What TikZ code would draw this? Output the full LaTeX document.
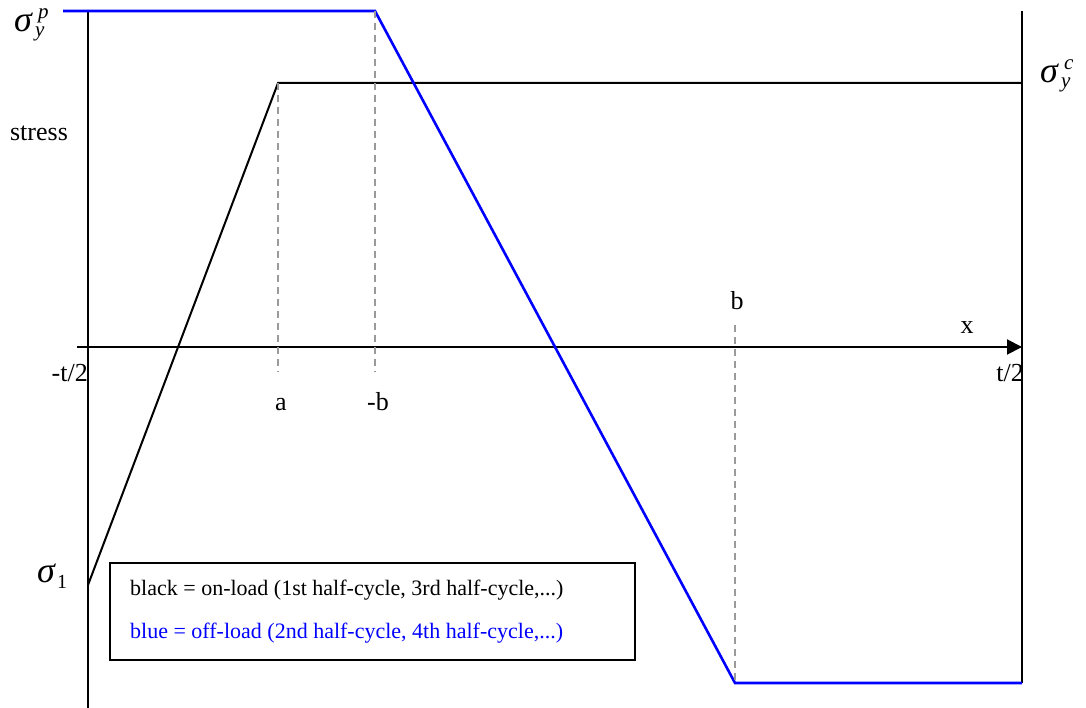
\documentclass[tikz,border=0pt]{standalone}
\usepackage{fontspec}
\setmainfont{Liberation Serif}
\usetikzlibrary{arrows.meta,positioning}
\definecolor{offblue}{HTML}{0000FF}
\definecolor{guidegray}{HTML}{9A9A9A}
\newcommand{\sigyld}[1]{\textit{σ}\kern2pt{\fontsize{21}{21}\selectfont\itshape
  \rlap{\kern3pt\raisebox{13pt}{#1}}\raisebox{-5pt}{y}}}
\tikzset{onload/.style={line width=2pt,draw=black},
  offload/.style={line width=2.6pt,draw=offblue},
  guide/.style={line width=1.4pt,draw=guidegray,dash pattern=on 7pt off 5pt},
  axisline/.style={line width=2pt,draw=black},
  lbl/.style={font=\fontsize{26}{30}\selectfont,inner sep=0pt},
  sig/.style={font=\fontsize{36}{38}\selectfont,inner sep=0pt},
  legtxt/.style={font=\fontsize{22}{26}\selectfont,inner sep=0pt,anchor=west}}

\begin{document}
\begin{tikzpicture}[x=1pt,y=-1pt]
\useasboundingbox (0,0) rectangle (1086,708);
% frame and axis
\coordinate (lt) at (88,11);\coordinate (lb) at (88,708);
\coordinate (rt) at (1022,11);\coordinate (rb) at (1022,683);
\coordinate (ax0) at (77,347);\coordinate (ax1) at (1022,347);
\draw[axisline] (lt)--(lb) (rt)--(rb);
\draw[axisline,-{Triangle[length=15pt,width=15pt]}] (ax0)--(ax1);
% on-load (black) and off-load (blue) paths
\coordinate (s1) at (88,585);\coordinate (ka) at (278,83);\coordinate (kc) at (1022,83);
\coordinate (p0) at (63,11);\coordinate (pb) at (375,11);
\coordinate (qb) at (735,683);\coordinate (qe) at (1022,683);
\draw[onload] (s1)--(ka)--(kc);
\draw[offload] (p0)--(pb)--(qb)--(qe);
% guides
\coordinate (ga) at (278,372);\coordinate (gb) at (375,372);\coordinate (gc) at (735,325);
\draw[guide] (ka)--(ga) (pb)--(gb) (gc)--(qb);
% labels
\node[sig,anchor=base west] (sigp) at (14,32) {\sigyld{p}};
\node[sig,anchor=base west] (sigc) at (1040,83) {\sigyld{c}};
\node[sig,anchor=base west] (sig1) at (37,582) {\textit{σ}\kern1pt\raisebox{-6pt}{\fontsize{20}{20}\selectfont 1}};
\node[lbl] (stress) at (39,133) {stress};
\node[lbl,anchor=base east] (mt) at (88,381) {-t/2};
\node[lbl,anchor=base east] (pt) at (1024,381) {t/2};
\node[lbl,anchor=base] (la) at (281,410) {a};
\node[lbl,anchor=base] (lmb) at (378,410) {-b};
\node[lbl,anchor=base] (lb2) at (737,310) {b};
\node[lbl,anchor=base] (lx) at (967,334) {x};
% legend
\node[draw,line width=1.5pt,minimum width=525pt,minimum height=97pt,inner sep=0pt]
  (legend) at (372.5,611.5) {};
\node[legtxt] (leg1) at (130,590) {black = on-load (1st half-cycle, 3rd half-cycle,...)};
\node[legtxt,text=offblue] (leg2) at (130,633) {blue = off-load (2nd half-cycle, 4th half-cycle,...)};
\end{tikzpicture}
\end{document}
